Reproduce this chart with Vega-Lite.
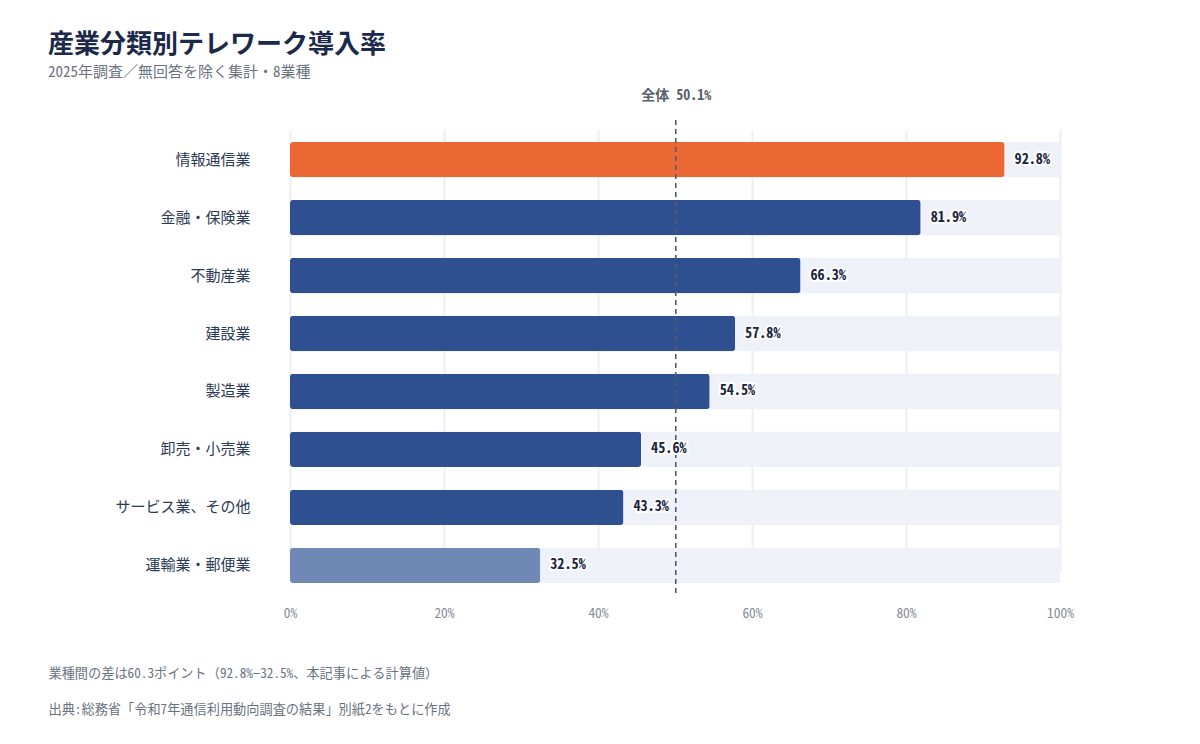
{
  "$schema": "https://vega.github.io/schema/vega-lite/v6.json",
  "width": 770,
  "height": 473,
  "autosize": {"type": "none"},
  "padding": {"left": 290, "top": 120, "right": 140, "bottom": 151},
  "background": "#ffffff",
  "config": {
    "font": "Noto Sans Mono CJK JP",
    "view": {"stroke": null}
  },
  "title": {
    "text": "産業分類別テレワーク導入率",
    "subtitle": "2025年調査／無回答を除く集計・8業種",
    "anchor": "start",
    "frame": "group",
    "dx": -242,
    "fontSize": 26,
    "fontWeight": "bold",
    "color": "#1B2A4A",
    "subtitleFontSize": 15,
    "subtitleColor": "#6B7280",
    "subtitlePadding": 7,
    "offset": 8
  },
  "datasets": {
    "rates": [
      {"industry": "情報通信業", "rate": 92.8},
      {"industry": "金融・保険業", "rate": 81.9},
      {"industry": "不動産業", "rate": 66.3},
      {"industry": "建設業", "rate": 57.8},
      {"industry": "製造業", "rate": 54.5},
      {"industry": "卸売・小売業", "rate": 45.6},
      {"industry": "サービス業、その他", "rate": 43.3},
      {"industry": "運輸業・郵便業", "rate": 32.5}
    ],
    "overall": [{"overall": 50.1}]
  },
  "data": {"name": "rates"},
  "resolve": {"axis": {"x": "independent"}},
  "encoding": {
    "y": {
      "field": "industry",
      "type": "nominal",
      "sort": null,
      "scale": {"range": [22, 463], "paddingInner": 0.39, "paddingOuter": 0},
      "axis": {
        "title": null,
        "ticks": false,
        "domain": false,
        "grid": false,
        "labelPadding": 40,
        "labelFontSize": 15,
        "labelColor": "#2B3A55"
      }
    }
  },
  "layer": [
    {
      "mark": {"type": "bar", "color": "#EEF1F8", "cornerRadius": 2},
      "encoding": {
        "x": {
          "datum": 100,
          "type": "quantitative",
          "scale": {"domain": [0, 100], "nice": false},
          "axis": {
            "orient": "bottom",
            "values": [0, 20, 40, 60, 80, 100],
            "labelExpr": "datum.value + '%'",
            "labelFlush": false,
            "labelColor": "#868B96",
            "labelFontSize": 13.5,
            "labelPadding": 13,
            "ticks": false,
            "domain": false,
            "grid": true,
            "gridColor": "#EDEEF4",
            "gridWidth": 2,
            "title": ["業種間の差は60.3ポイント（92.8%−32.5%、本記事による計算値）", "出典:総務省「令和7年通信利用動向調査の結果」別紙2をもとに作成"],
            "titleAnchor": "start",
            "titleAlign": "left",
            "titleX": -242,
            "titleY": 84,
            "titleBaseline": "alphabetic",
            "titleLineHeight": 36,
            "titleFontSize": 13.2,
            "titleFontWeight": "normal",
            "titleColor": "#6B7280"
          }
        }
      }
    },
    {
      "mark": {"type": "bar", "cornerRadius": 3},
      "encoding": {
        "x": {"field": "rate", "type": "quantitative", "axis": null},
        "color": {
          "condition": [
            {"test": "datum.industry === '情報通信業'", "value": "#EB6834"},
            {"test": "datum.industry === '運輸業・郵便業'", "value": "#6F88B6"}
          ],
          "value": "#2E5090"
        }
      }
    },
    {
      "data": {"name": "overall"},
      "mark": {"type": "rule", "color": "#555A66", "strokeWidth": 1.6, "strokeDash": [5, 4]},
      "encoding": {
        "y": null,
        "x": {
          "field": "overall",
          "type": "quantitative",
          "axis": {
            "orient": "top",
            "values": [50.1],
            "labelExpr": "'全体 ' + format(datum.value, '.1f') + '%'",
            "labelFontSize": 14,
            "labelFontWeight": "bold",
            "labelColor": "#5A5F6A",
            "labelPadding": 18,
            "labelFlush": false,
            "ticks": false,
            "domain": false,
            "grid": false,
            "title": null
          }
        }
      }
    },
    {
      "transform": [{"calculate": "format(datum.rate, '.1f') + '%'", "as": "label"}],
      "mark": {"type": "text", "align": "left", "baseline": "middle", "dx": 10, "fontSize": 14.2, "fontWeight": "bold", "stroke": "#ffffff", "strokeWidth": 4, "strokeJoin": "round", "fill": "#ffffff"},
      "encoding": {
        "x": {"field": "rate", "type": "quantitative", "axis": null},
        "text": {"field": "label"}
      }
    },
    {
      "transform": [{"calculate": "format(datum.rate, '.1f') + '%'", "as": "label"}],
      "mark": {"type": "text", "align": "left", "baseline": "middle", "dx": 10, "fontSize": 14.2, "fontWeight": "bold", "fill": "#1A2540"},
      "encoding": {
        "x": {"field": "rate", "type": "quantitative", "axis": null},
        "text": {"field": "label"}
      }
    }
  ]
}
